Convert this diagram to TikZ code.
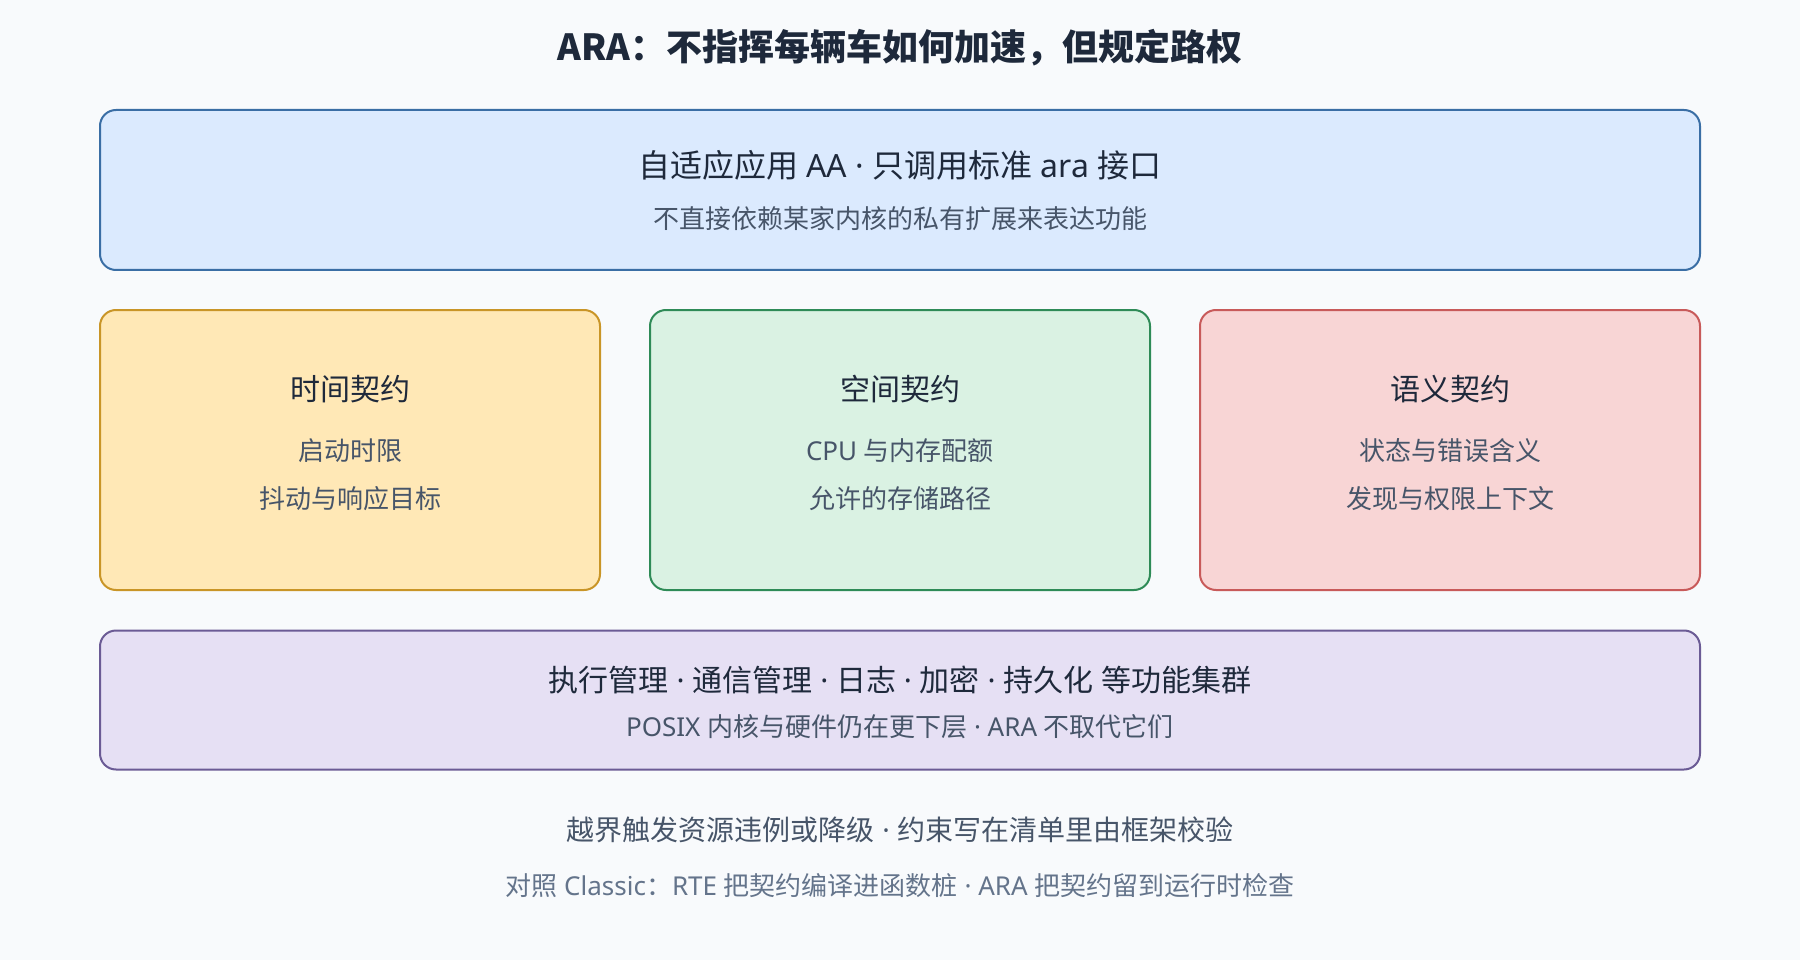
\documentclass[tikz,border=0pt]{standalone}
\usepackage{fontspec}
\setmainfont{Noto Sans CJK SC}
\newfontfamily\latinfont{Noto Sans}
\usepackage{tikz}

\definecolor{pagebg}{HTML}{F8FAFC}
\definecolor{inktitle}{HTML}{1E293B}
\definecolor{inksub}{HTML}{475569}
\definecolor{inknote}{HTML}{64748B}
\definecolor{aafill}{HTML}{DBEAFE}
\definecolor{aadraw}{HTML}{3A6EA5}
\definecolor{timefill}{HTML}{FFE8B6}
\definecolor{timedraw}{HTML}{C99527}
\definecolor{spacefill}{HTML}{DAF2E3}
\definecolor{spacedraw}{HTML}{2E8B57}
\definecolor{semfill}{HTML}{F8D5D5}
\definecolor{semdraw}{HTML}{C85A5A}
\definecolor{fcfill}{HTML}{E6E0F4}
\definecolor{fcdraw}{HTML}{6B5B95}

% latin runs and the narrow separator dot
\newcommand\lat[1]{{\latinfont #1}}
\newcommand\sepdot{\lat{ · }}

\tikzset{
  layer/.style={draw, line width=2pt, rounded corners=16pt, inner sep=0pt},
  head/.style={text=inktitle, font=\fontsize{30}{36}\selectfont, inner sep=0pt},
  sub/.style={text=inksub, font=\fontsize{26}{31}\selectfont, inner sep=0pt},
}

\begin{document}
\begin{tikzpicture}[x=1pt,y=-1pt]

\fill[pagebg] (0,0) rectangle (1800,960);
\useasboundingbox (0,0) rectangle (1800,960);

\node (title) at (900,48) [inner sep=0pt, text=inktitle, font=\fontsize{36}{43}\selectfont\bfseries] {ARA：不指挥每辆车如何加速，但规定路权};

% application layer
\node (aa) at (900,190) [layer, fill=aafill, draw=aadraw, minimum width=1600pt, minimum height=160pt] {};
\node (aahead) at (900,165) [head, font=\fontsize{32}{38}\selectfont] {自适应应用\lat{ AA · }只调用标准\lat{ ara }接口};
\node (aasub) at (900,219) [sub] {不直接依赖某家内核的私有扩展来表达功能};

% three contracts
\node (time) at (350,450) [layer, fill=timefill, draw=timedraw, minimum width=500pt, minimum height=280pt] {};
\node (space) at (900,450) [layer, fill=spacefill, draw=spacedraw, minimum width=500pt, minimum height=280pt] {};
\node (sem) at (1450,450) [layer, fill=semfill, draw=semdraw, minimum width=500pt, minimum height=280pt] {};

\node (timehead) at (350,389) [head] {时间契约};
\node (timea) at (350,451) [sub] {启动时限};
\node (timeb) at (350,499) [sub] {抖动与响应目标};

\node (spacehead) at (900,389) [head] {空间契约};
\node (spacea) at (900,451) [sub] {\lat{CPU }与内存配额};
\node (spaceb) at (900,499) [sub] {允许的存储路径};

\node (semhead) at (1450,389) [head] {语义契约};
\node (sema) at (1450,451) [sub] {状态与错误含义};
\node (semb) at (1450,499) [sub] {发现与权限上下文};

% functional clusters
\node (fc) at (900,700) [layer, fill=fcfill, draw=fcdraw, minimum width=1600pt, minimum height=139pt] {};
\node (fchead) at (900,680) [head] {执行管理\sepdot 通信管理\sepdot 日志\sepdot 加密\sepdot 持久化\lat{ }等功能集群};
\node (fcsub) at (900,727) [sub] {\lat{POSIX }内核与硬件仍在更下层\lat{ · ARA }不取代它们};

% notes
\node (notea) at (900,830) [inner sep=0pt, text=inksub, font=\fontsize{28}{34}\selectfont] {越界触发资源违例或降级\sepdot 约束写在清单里由框架校验};
\node (noteb) at (900,886) [inner sep=0pt, text=inknote, font=\fontsize{26}{31}\selectfont] {对照\lat{ Classic}：\lat{RTE }把契约编译进函数桩\lat{ · ARA }把契约留到运行时检查};

\end{tikzpicture}
\end{document}
